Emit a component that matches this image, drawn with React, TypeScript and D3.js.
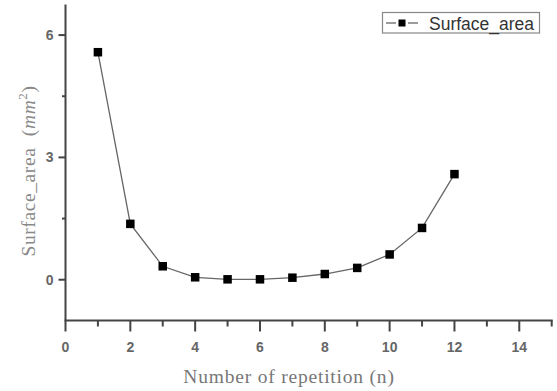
import React from "react";
import * as d3 from "d3";

const xValues = [1, 2, 3, 4, 5, 6, 7, 8, 9, 10, 11, 12];
const surfaceArea = [5.58, 1.37, 0.33, 0.06, 0.01, 0.01, 0.05, 0.14, 0.29, 0.62, 1.27, 2.59];
const xMajorTicks = [0, 2, 4, 6, 8, 10, 12, 14];
const xMinorTicks = [1, 3, 5, 7, 9, 11, 13, 15];
const yMajorTicks = [0, 3, 6];
const yMinorTicks = [1.5, 4.5];
const seriesName = "Surface_area";

export default function App() {
  const W = 557, H = 391;
  const x = d3.scaleLinear().domain([0, 15]).range([65.5, 551.7]);
  const y = d3.scaleLinear().domain([-1, 6.75]).range([320.5, 4.5]);
  const line = d3.line<number>().x((_, i) => x(xValues[i])).y((d) => y(d));
  const axisColor = "#444";
  const x0 = x(0), yb = y(-1);
  const ms = 8.5;
  return (
    <svg width={W} height={H} style={{ position: "absolute", left: 0, top: 0, background: "#fff" }}>
      {/* axes */}
      <line x1={x0} x2={x0} y1={y(6.75)} y2={yb} stroke={axisColor} strokeWidth={2} />
      <line x1={x0 - 1} x2={x(15) + 1} y1={yb} y2={yb} stroke={axisColor} strokeWidth={2} />
      {xMajorTicks.map((t) => (
        <g key={"xm" + t}>
          <line x1={x(t)} x2={x(t)} y1={yb} y2={yb + 11} stroke={axisColor} strokeWidth={2} />
          <text x={x(t)} y={yb + 31} textAnchor="middle" fontFamily="Liberation Sans, Arial, sans-serif" fontSize={14} fontWeight="bold" fill="#666">{t}</text>
        </g>
      ))}
      {xMinorTicks.map((t) => (
        <line key={"xn" + t} x1={x(t)} x2={x(t)} y1={yb} y2={yb + 6} stroke={axisColor} strokeWidth={2} />
      ))}
      {yMajorTicks.map((t) => (
        <g key={"ym" + t}>
          <line x1={x0 - 7} x2={x0} y1={y(t)} y2={y(t)} stroke={axisColor} strokeWidth={2} />
          <text x={x0 - 12} y={y(t) + 5} textAnchor="end" fontFamily="Liberation Sans, Arial, sans-serif" fontSize={14} fontWeight="bold" fill="#666">{t}</text>
        </g>
      ))}
      {yMinorTicks.map((t) => (
        <line key={"yn" + t} x1={x0 - 3.5} x2={x0} y1={y(t)} y2={y(t)} stroke={axisColor} strokeWidth={2} />
      ))}
      {/* series */}
      <path d={line(surfaceArea) || ""} fill="none" stroke="#666" strokeWidth={1.3} />
      {surfaceArea.map((v, i) => (
        <rect key={i} x={x(xValues[i]) - ms / 2} y={y(v) - ms / 2} width={ms} height={ms} fill="#000" />
      ))}
      {/* axis titles */}
      <text x={289} y={383} textAnchor="middle" fontFamily="Liberation Serif, Times New Roman, serif" fontSize={19.5} fill="#777" letterSpacing={0.8}>Number of repetition (n)</text>
      <text transform={`translate(35,171) rotate(-90)`} textAnchor="middle" fontFamily="Liberation Serif, Times New Roman, serif" fontSize={19.5} fill="#888" letterSpacing={0.6}>
        Surface_area <tspan dx={6}>(</tspan><tspan fontStyle="italic">mm</tspan><tspan fontSize={13} dy={-8}>2</tspan><tspan dy={8}>)</tspan>
      </text>
      {/* legend */}
      <rect x={382.5} y={12.5} width={157} height={20.5} fill="#fff" stroke="#888" strokeWidth={1.2} />
      <line x1={386} x2={396} y1={23} y2={23} stroke="#666" strokeWidth={1.3} />
      <line x1={408} x2={418} y1={23} y2={23} stroke="#666" strokeWidth={1.3} />
      <rect x={402 - 3.5} y={23 - 3.5} width={7} height={7} fill="#000" />
      <text x={429} y={29.5} fontFamily="Liberation Sans, Arial, sans-serif" fontSize={17.5} fill="#333">{seriesName}</text>
    </svg>
  );
}
